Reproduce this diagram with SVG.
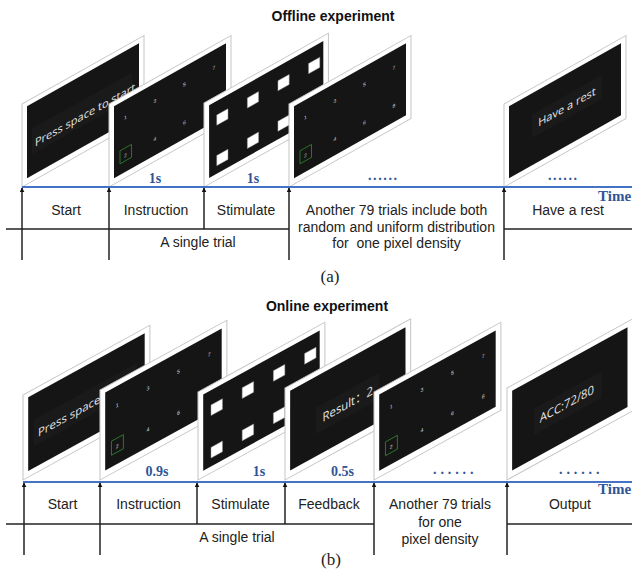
<svg xmlns="http://www.w3.org/2000/svg" width="632" height="569" viewBox="0 0 632 569">
<style>
.title{font-family:"Liberation Sans",Arial,sans-serif;font-weight:bold;font-size:14px;fill:#111;text-anchor:middle}
.lbl{font-family:"Liberation Sans",Arial,sans-serif;font-size:14px;fill:#222;text-anchor:middle}
.cap{font-family:"Liberation Serif","Times New Roman",serif;font-size:17px;fill:#222;text-anchor:middle}
.dur{font-family:"Liberation Serif","Times New Roman",serif;font-weight:bold;font-size:14px;fill:#2F5597;text-anchor:middle}
.time{font-family:"Liberation Serif","Times New Roman",serif;font-weight:bold;font-size:15px;fill:#2F5597}
.dots{font-family:"Liberation Serif","Times New Roman",serif;font-weight:bold;font-size:14px;fill:#2F5597}
.frame{fill:#fff;stroke:#c6c6c6;stroke-width:1}
.scr{fill:#151515}
.box{fill:#1a1a1a}
.num{font-family:"Liberation Sans",Arial,sans-serif;font-size:5px;fill:#d8d8d8;text-anchor:middle}
.sel{fill:none;stroke:#2f8a2f;stroke-width:0.7}
.sq{fill:#fff;stroke:#999;stroke-width:0.4}
.msg{font-family:"Open Sans","Noto Sans CJK SC",sans-serif;font-size:11px;fill:#e6e6e6}
.axis{stroke:#4472C4;stroke-width:2}
.tick{stroke:#222;stroke-width:1.5;marker-start:url(#up)}
.rule{stroke:#222;stroke-width:1.3}
</style>
<defs>
<marker id="up" viewBox="0 0 8 8" refX="7" refY="4" markerWidth="5" markerHeight="5" orient="auto-start-reverse" markerUnits="userSpaceOnUse"><path d="M0,0 L8,4 L0,8 z" fill="#111"/></marker>
<g id="frame"><rect class="frame" x="0" y="0" width="122" height="83"/><rect class="scr" x="5" y="5" width="112" height="72"/></g>
<g id="numbers">
<text class="num" x="16.5" y="24.5">1</text><text class="num" x="46" y="24.5">3</text><text class="num" x="75.5" y="24.5">5</text><text class="num" x="105" y="24.5">7</text>
<text class="num" x="16.5" y="62.5">2</text><text class="num" x="46" y="62.5">4</text><text class="num" x="75.5" y="62.5">6</text><text class="num" x="105" y="62.5">8</text>
<rect class="sel" x="11" y="53" width="11.5" height="13"/>
</g>
<g id="squares">
<rect class="sq" x="12.5" y="19" width="11" height="10"/><rect class="sq" x="42.5" y="19" width="11" height="10"/><rect class="sq" x="72.5" y="19" width="11" height="10"/><rect class="sq" x="102.5" y="19" width="11" height="10"/>
<rect class="sq" x="12.5" y="59" width="11" height="10"/><rect class="sq" x="42.5" y="59" width="11" height="10"/><rect class="sq" x="72.5" y="59" width="11" height="10"/><rect class="sq" x="102.5" y="59" width="11" height="10"/>
</g>
</defs>

<rect width="632" height="569" fill="#fff"/>

<text class="title" x="333" y="21">Offline experiment</text>
<text class="title" x="327" y="311">Online experiment</text>

<!-- Offline screens -->
<g id="off-start" transform="translate(22,104) skewY(-29.3)"><use href="#frame"/><rect class="box" x="10" y="30" width="100" height="26"/><text class="msg" x="13" y="50">Press space to start</text></g>
<g id="off-instruction" transform="translate(109,104) skewY(-29.3)"><use href="#frame"/><use href="#numbers"/></g>
<g id="off-stimulate" transform="translate(204,103) skewY(-29.3) scale(1.02,1.012)"><use href="#frame"/><use href="#squares"/></g>
<g id="off-trials" transform="translate(289,104) skewY(-29.3)"><use href="#frame"/><use href="#numbers"/></g>
<g id="off-rest" transform="translate(504,104) skewY(-29.3)"><use href="#frame"/><rect class="box" x="28" y="26" width="70" height="24"/><text class="msg" x="63" y="42" text-anchor="middle">Have a rest</text></g>

<!-- Online screens -->
<g id="on-start" transform="translate(23,395) skewY(-28.8) scale(1.04,1.024)"><use href="#frame"/><rect class="box" x="10" y="30" width="100" height="26"/><text class="msg" x="14.4" y="49">Press space</text></g>
<g id="on-instruction" transform="translate(100,390) skewY(-28.8) scale(1.04,1.084)"><use href="#frame"/><use href="#numbers"/></g>
<g id="on-stimulate" transform="translate(198,392) skewY(-28.8) scale(1.04,1.06)"><use href="#frame"/><use href="#squares"/></g>
<g id="on-feedback" transform="translate(285,388) skewY(-28.8) scale(1.03,1.108)"><use href="#frame"/><rect class="box" x="30" y="33" width="62" height="24"/><text class="msg" x="36.5" y="49.3">Result：2</text></g>
<g id="on-trials" transform="translate(374,392) skewY(-28.8) scale(1.04,1.06)"><use href="#frame"/><use href="#numbers"/></g>
<g id="on-output" transform="translate(507,388) skewY(-28.8) scale(1.03,1.108)"><use href="#frame"/><rect class="box" x="26" y="32" width="66" height="24"/><text class="msg" x="31.7" y="47.8">ACC:72/80</text></g>

<!-- Connectors / timeline -->
<g id="connectors">
<line class="axis" x1="22" y1="187" x2="632" y2="187"/>
<line class="tick" x1="22" y1="188" x2="22" y2="260"/>
<line class="tick" x1="109" y1="188" x2="109" y2="260"/>
<line class="tick" x1="204" y1="188" x2="204" y2="229"/>
<line class="tick" x1="289" y1="188" x2="289" y2="260"/>
<line class="tick" x1="504" y1="188" x2="504" y2="260"/>
<line class="rule" x1="6" y1="229" x2="289" y2="229"/>
<line class="rule" x1="504" y1="229" x2="632" y2="229"/>

<line class="axis" x1="23" y1="482" x2="632" y2="482"/>
<line class="tick" x1="24" y1="483" x2="24" y2="555"/>
<line class="tick" x1="100" y1="483" x2="100" y2="555"/>
<line class="tick" x1="197" y1="483" x2="197" y2="524"/>
<line class="tick" x1="285" y1="483" x2="285" y2="524"/>
<line class="tick" x1="374" y1="483" x2="374" y2="555"/>
<line class="tick" x1="507" y1="483" x2="507" y2="555"/>
<line class="rule" x1="6" y1="524" x2="374" y2="524"/>
<line class="rule" x1="507" y1="524" x2="632" y2="524"/>
</g>

<!-- Offline labels -->
<text class="dur" x="155" y="183">1s</text>
<text class="dur" x="253" y="183">1s</text>
<text class="dots" x="368" y="180" letter-spacing="1.6">......</text>
<text class="dots" x="548" y="180" letter-spacing="1.6">......</text>
<text class="time" x="598" y="201">Time</text>
<text class="lbl" x="66" y="215">Start</text>
<text class="lbl" x="156" y="215">Instruction</text>
<text class="lbl" x="246" y="215">Stimulate</text>
<text class="lbl" x="198" y="247">A single trial</text>
<text class="lbl" x="396.5" y="215">Another 79 trials include both</text>
<text class="lbl" x="396.5" y="231.5">random and uniform distribution</text>
<text class="lbl" x="396.5" y="248" xml:space="preserve">for  one pixel density</text>
<text class="lbl" x="568" y="215">Have a rest</text>
<text class="cap" x="330" y="282">(a)</text>

<!-- Online labels -->
<text class="dur" x="157" y="476">0.9s</text>
<text class="dur" x="259" y="476">1s</text>
<text class="dur" x="342.5" y="476">0.5s</text>
<text class="dots" x="433" y="474" letter-spacing="3.9">......</text>
<text class="dots" x="559" y="474" letter-spacing="3.9">......</text>
<text class="time" x="598" y="494">Time</text>
<text class="lbl" x="62.5" y="509">Start</text>
<text class="lbl" x="148.5" y="509">Instruction</text>
<text class="lbl" x="240.5" y="509">Stimulate</text>
<text class="lbl" x="329" y="509">Feedback</text>
<text class="lbl" x="237" y="542">A single trial</text>
<text class="lbl" x="440" y="509">Another 79 trials</text>
<text class="lbl" x="440" y="526.5">for one</text>
<text class="lbl" x="440" y="543.5">pixel density</text>
<text class="lbl" x="570" y="509">Output</text>
<text class="cap" x="331" y="565">(b)</text>
</svg>
